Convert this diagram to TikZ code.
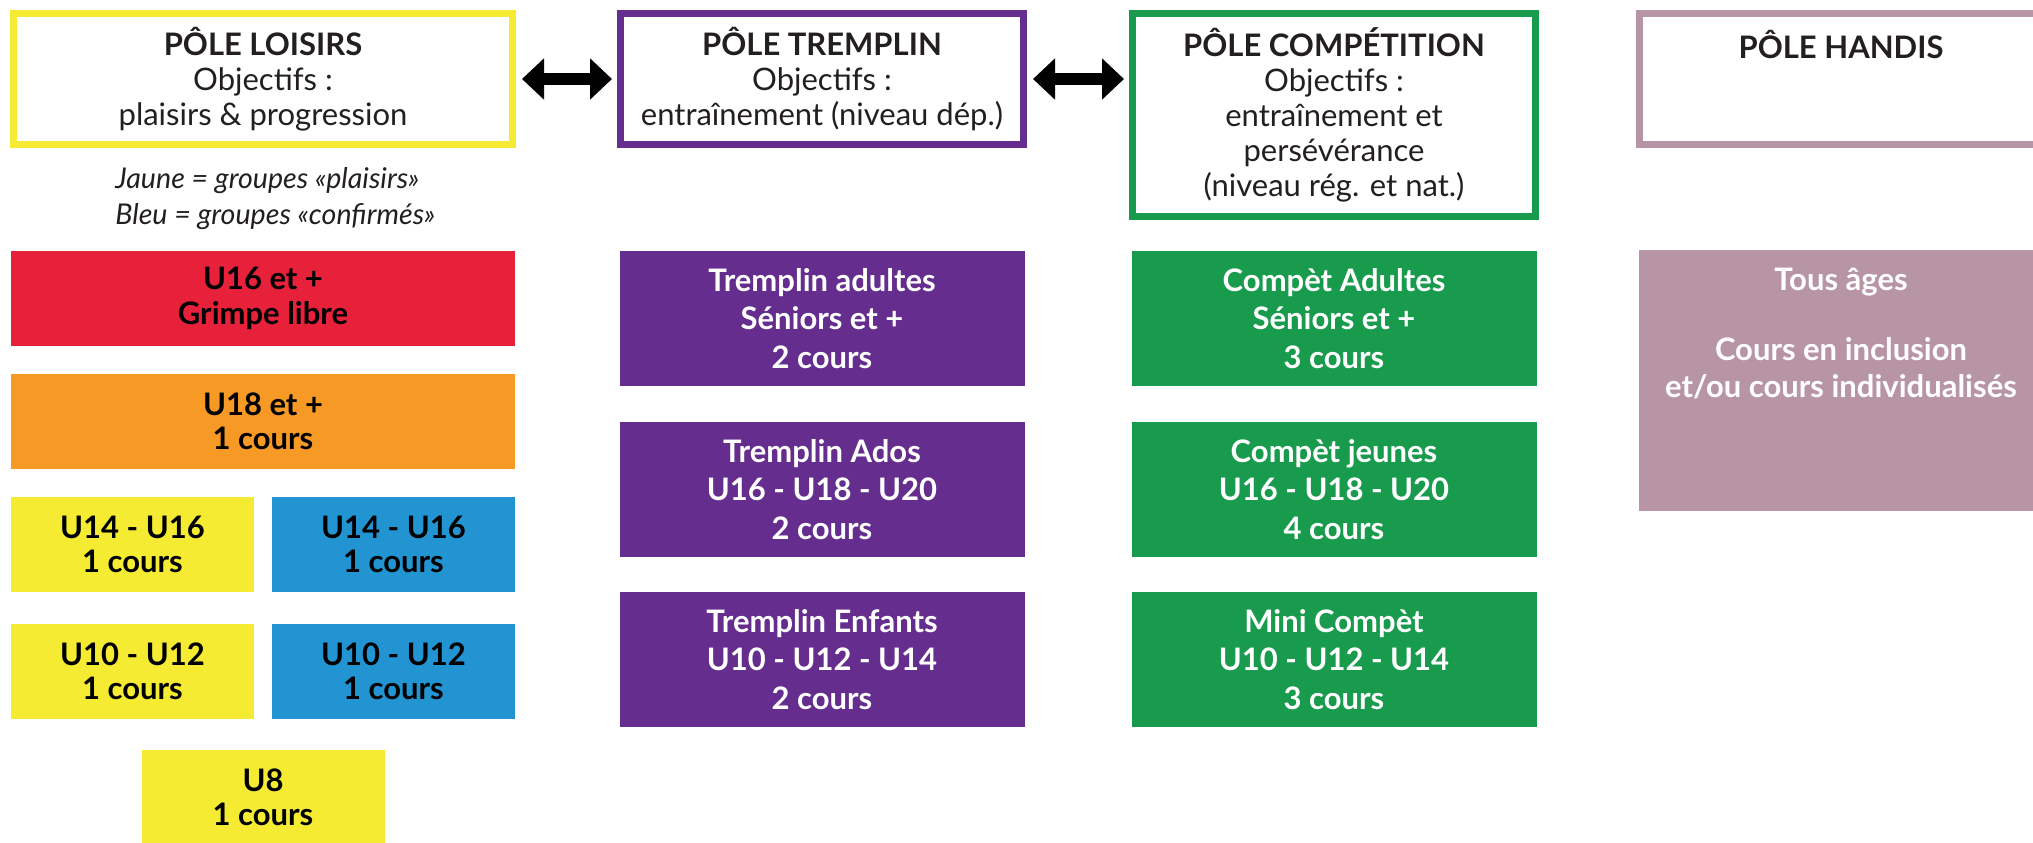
\documentclass[tikz,border=0pt]{standalone}
\usepackage{fontspec}
\setmainfont{Lato}
\usetikzlibrary{positioning,arrows.meta}

\definecolor{jaune}{HTML}{F5EB32}
\definecolor{rouge}{HTML}{E8213B}
\definecolor{orange}{HTML}{F69A25}
\definecolor{bleu}{HTML}{2394D2}
\definecolor{violet}{HTML}{652E8E}
\definecolor{vert}{HTML}{189B4C}
\definecolor{mauve}{HTML}{B895A4}
\definecolor{texte}{HTML}{231F20}

\tikzset{
  entete/.style={draw, line width=3.5pt, fill=white, align=center, text=texte, inner sep=0pt,
    minimum width=201.5pt, minimum height=65.5pt, font=\fontsize{15.5}{17.5}\selectfont},
  boite/.style={inner sep=0pt, outer sep=0pt, align=center, minimum height=47.5pt,
    font=\bfseries\fontsize{15.5}{17.25}\selectfont},
  grande/.style={boite, minimum width=252pt},
  petite/.style={boite, minimum width=121.5pt},
  cours/.style={boite, text=white, minimum width=202.5pt, minimum height=67.5pt,
    font=\bfseries\fontsize{15.5}{19.2}\selectfont},
  double_fleche/.style={line width=6pt, shorten <=3pt, shorten >=2.5pt,
    {Triangle[width=20pt,length=11pt]}-{Triangle[width=20pt,length=11pt]}}
}

\begin{document}
\begin{tikzpicture}[x=1pt, y=1pt]
\clip (0,0) rectangle (1016.5,-421);

%% HEADERS
\node[entete, draw=jaune, minimum width=249.5pt](head_loisirs) at (131.5,-39.5){{\bfseries PÔLE LOISIRS}\\Objectifs :\\plaisirs \& progression};
\node[entete, draw=violet, right=50.5pt of head_loisirs](head_tremplin){{\bfseries PÔLE TREMPLIN}\\Objectifs :\\entraînement (niveau dép.)};
\node[entete, draw=vert, minimum height=101.5pt, right=51pt of head_tremplin.north east, anchor=north west](head_compet){{\bfseries PÔLE COMPÉTITION}\\Objectifs :\\entraînement et\\persévérance\\(niveau rég. et nat.)};
\node[entete, draw=mauve, right=48.5pt of head_compet.north east, anchor=north west](head_handis){{\bfseries PÔLE HANDIS}\\~\\~};

\draw[double_fleche] (head_loisirs) -- (head_tremplin);
\draw[double_fleche] (head_tremplin) -- (head_tremplin -| head_compet.west);

%% LOISIRS
\node[align=left, inner sep=0pt, anchor=north west, text=texte, font=\itshape\fontsize{14.3}{18}\selectfont](legende) at (57.5,-83.5){Jaune = groupes «plaisirs»\\Bleu = groupes «confirmés»};

\node[grande, fill=rouge, below=51.5pt of head_loisirs](u16){U16 et +\\Grimpe libre};
\node[grande, fill=orange, below=14pt of u16](u18){U18 et +\\1 cours};
\node[petite, fill=jaune, below=14pt of u18.south west, anchor=north west](u14_jaune){U14 - U16\\1 cours};
\node[petite, fill=bleu, below=14pt of u18.south east, anchor=north east](u14_bleu){U14 - U16\\1 cours};
\node[petite, fill=jaune, below=16pt of u14_jaune](u10_jaune){U10 - U12\\1 cours};
\node[petite, fill=bleu, below=16pt of u14_bleu](u10_bleu){U10 - U12\\1 cours};
\node[petite, fill=jaune, below=15.5pt of u10_jaune, xshift=65.25pt](u8){U8\\1 cours};

%% TREMPLIN
\node[cours, fill=violet, below=51.5pt of head_tremplin](tr_adultes){Tremplin adultes\\Séniors et +\\2 cours};
\node[cours, fill=violet, below=18pt of tr_adultes](tr_ados){Tremplin Ados\\U16 - U18 - U20\\2 cours};
\node[cours, fill=violet, below=17.5pt of tr_ados](tr_enfants){Tremplin Enfants\\U10 - U12 - U14\\2 cours};

%% COMPETITION
\node[cours, fill=vert, below=15.5pt of head_compet](co_adultes){Compèt Adultes\\Séniors et +\\3 cours};
\node[cours, fill=vert, below=18pt of co_adultes](co_jeunes){Compèt jeunes\\U16 - U18 - U20\\4 cours};
\node[cours, fill=vert, below=17.5pt of co_jeunes](co_mini){Mini Compèt\\U10 - U12 - U14\\3 cours};

%% HANDIS
\node[cours, fill=mauve, minimum height=130.5pt, font=\bfseries\fontsize{15.5}{18.5}\selectfont, below=51pt of head_handis](handis){Tous âges\\[16.5pt]Cours en inclusion\\et/ou cours individualisés\\~\\[10.5pt]~};

\end{tikzpicture}
\end{document}
